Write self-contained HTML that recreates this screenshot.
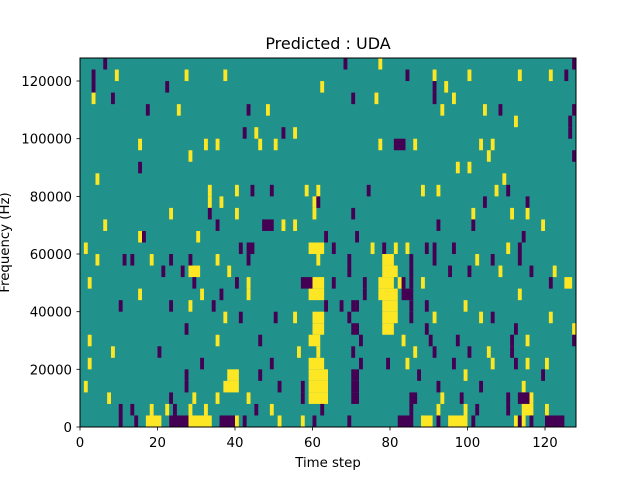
<!DOCTYPE html>
<html><head><meta charset="utf-8"><style>
html,body{margin:0;padding:0;background:#fff;width:640px;height:480px;overflow:hidden}
svg{display:block;font-family:"DejaVu Sans","Liberation Sans",sans-serif}
</style></head><body>
<svg id="s" width="640" height="480" xmlns="http://www.w3.org/2000/svg">
<rect width="640" height="480" fill="#fff"/>
<rect x="80" y="58" width="496" height="369" fill="#21918c"/>
<g id="cells"></g>
<rect x="80" y="58" width="496" height="369" fill="none" stroke="#000" stroke-width="1"/>
<g stroke="#000" stroke-width="0.8">
<line x1="80" y1="427" x2="80" y2="430.5"/><line x1="157.5" y1="427" x2="157.5" y2="430.5"/><line x1="235" y1="427" x2="235" y2="430.5"/><line x1="312.5" y1="427" x2="312.5" y2="430.5"/><line x1="390" y1="427" x2="390" y2="430.5"/><line x1="467.5" y1="427" x2="467.5" y2="430.5"/><line x1="545" y1="427" x2="545" y2="430.5"/>
<line x1="76.5" y1="427" x2="80" y2="427"/><line x1="76.5" y1="369.3" x2="80" y2="369.3"/><line x1="76.5" y1="311.7" x2="80" y2="311.7"/><line x1="76.5" y1="254" x2="80" y2="254"/><line x1="76.5" y1="196.4" x2="80" y2="196.4"/><line x1="76.5" y1="138.7" x2="80" y2="138.7"/><line x1="76.5" y1="81" x2="80" y2="81"/>
</g>
<g font-size="13.3" text-anchor="middle" fill="#000">
<text x="80" y="447">0</text><text x="157.5" y="447">20</text><text x="235" y="447">40</text><text x="312.5" y="447">60</text><text x="390" y="447">80</text><text x="467.5" y="447">100</text><text x="545" y="447">120</text>
</g>
<g font-size="13.3" text-anchor="end" fill="#000">
<text x="72" y="432">0</text><text x="72" y="374.3">20000</text><text x="72" y="316.7">40000</text><text x="72" y="259">60000</text><text x="72" y="201.4">80000</text><text x="72" y="143.7">100000</text><text x="72" y="86">120000</text>
</g>
<text x="328" y="467" font-size="13.3" text-anchor="middle">Time step</text>
<text transform="translate(9,242.5) rotate(-90)" font-size="13.3" text-anchor="middle">Frequency (Hz)</text>
<text x="328" y="49" font-size="16" text-anchor="middle">Predicted : UDA</text>
</svg>
<script>
var rows=[
"P105 Y380 P345 P574",
"Y118 P94 Y187 Y225 P407 Y434 Y468 Y520 Y551 P567",
"P94 P168 Y324 P436 Y448",
"Y94 P114 P353 Y377 P436 Y454",
"P149 Y179 P249 Y268 Y444 Y486 P501 P574",
"P571 Y516",
"P245 Y257 P284 Y295 P571",
"Y140 Y205 Y216 Y259 Y275 Y380 P396-404 Y414 Y482 Y493",
"Y191 P575 Y488",
"P139 Y459 Y468",
"Y97 Y504",
"Y210 Y236 P253 P270 Y307 Y317 P370 Y423 Y439 Y498 P508",
"Y210 Y223 Y314 P318 P526 P483",
"Y171 P211 Y237 Y314 P352 Y474 Y511 Y527",
"Y106 P219 P265-270 Y284 Y296 P438 P475 Y543",
"Y141 P145 Y198 P326 P358 P523",
"Y87 P241 P248 P253 Y312-324 P335 P384 Y372 P425 P433 P455 Y397 Y409 Y508 P518",
"Y97 P125 P131 Y150 P172 P189 Y217 P247 Y320 P350 Y384-392 P410 P435 Y478 P492 P521",
"Y192-198 P181 P165 Y228 P351 Y384-396 P412 P450 P471 Y499 P531 Y556",
"Y90 P195 P236 Y247 P301-309 Y313-323 P333 P365 Y380-392 Y399 P404 P412 Y421 Y565-572 P552",
"Y202 P220 Y249 Y312-324 P363 Y382-397 P405-413 Y520 Y141",
"P122 P172 Y192 P214 P327 P341 P352 P357 Y383-394 P411 P426 Y464",
"Y226 P239 P277 Y295 Y313-324 P349 Y383-394 Y436 P412 Y482 P491 Y551",
"P187 Y313-322 Y383-393 P352-357 P426 P515 Y574",
"Y90 Y218 P260 Y312-319 P361 Y403 P431 P513 P457 Y526 P575",
"Y113 P158 Y299 Y317 P353 Y416 P433 P470 Y488 P511",
"Y89 P201 P271 Y312-322 P362 P387 Y406 P454 Y494 P517 Y529 Y547",
"P186 Y229-237 P261 Y312-325 P352-357 P420 Y467 P544",
"Y86 P186 Y227-237 P280 P302 Y312-326 P352-357 P438 P482 Y525",
"Y109 P171 Y194 Y217 Y249 P302 Y312-326 P352-357 P410-416 Y442 P461 P508 P521-528 Y533",
"P120 P131 Y151 Y166 P176 Y190 Y204 P258 Y272 P321 P411 Y439 Y467 P477 P509 Y523-530 Y547",
"Y147-161 Y171 P172-186 Y189-208 P222-236 Y238 P244 Y279 Y303 P316 P351 P398-410 Y421-432 P438 Y449-464 P473 Y516 P518 Y525 P532 P548-562 P121 P136"
];
var g=document.getElementById('cells'),ns="http://www.w3.org/2000/svg",cw=496/128,rh=369/32;
rows.forEach(function(r,t){r.split(' ').forEach(function(tok){if(!tok)return;
var col=tok[0]=='Y'?'#fde725':'#440154';var p=tok.slice(1).split('-');
var a=Math.floor((+p[0]-80)/cw),b=p.length>1?Math.floor((+p[1]-80)/cw):a;
if(a<0)a=0;if(b>127)b=127;
var e=document.createElementNS(ns,'rect');e.setAttribute('x',80+a*cw);e.setAttribute('y',58+t*rh);
e.setAttribute('width',(b-a+1)*cw);e.setAttribute('height',rh);e.setAttribute('fill',col);g.appendChild(e);});});
</script>
</body></html>
